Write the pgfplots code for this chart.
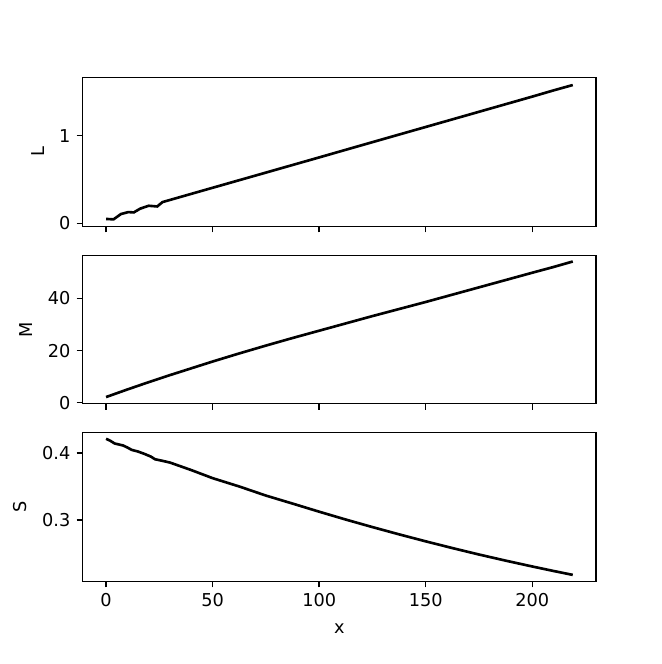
\documentclass[border=0pt]{standalone}
\usepackage{pgfplots}
\pgfplotsset{compat=1.18}
\usepackage{fontspec}
\setmainfont{DejaVu Sans}
\begin{document}
\begin{tikzpicture}
\pgfplotsset{
  every axis/.append style={
    scale only axis, width=370.8bp, height=107.3bp,
    xmin=-10.95, xmax=229.95,
    xtick={0,50,100,150,200},
    tick align=outside, tick pos=left,
    major tick length=4.4bp,
    axis line style={line width=1.0bp},
    every tick/.style={line width=1.0bp, black},
    /pgf/number format/assume math mode=true,
    tick label style={font=\fontsize{12.8bp}{15bp}\selectfont},
    label style={font=\fontsize{12.8bp}{15bp}\selectfont},
    xticklabel style={yshift=-1bp},
    yticklabel style={xshift=-1bp},
    ylabel style={yshift=4bp},
    xlabel style={yshift=-5bp},
  },
}
\begin{axis}[name=top, ymin=-0.034, ymax=1.659, ytick={0,1}, xticklabels={}, ylabel={L}]
\addplot[black, line width=1.9bp] coordinates {
(0,0.05) (3.5,0.045) (7,0.106) (10.5,0.128) (13,0.124) (16,0.167) (20,0.200) (24,0.192) (26.5,0.242)
(50,0.405) (75,0.578) (100,0.751) (125,0.925) (150,1.098) (175,1.271) (200,1.444) (210,1.515) (219,1.576)
};
\end{axis}
\begin{axis}[name=mid, at={(top.south west)}, anchor=north west, yshift=-20.9bp,
  ymin=-0.38, ymax=56.5, ytick={0,20,40}, xticklabels={}, ylabel={M}]
\addplot[black, line width=1.9bp] coordinates {
(0,2.2) (10,5.1) (20,7.9) (30,10.6) (40,13.2) (50,15.8) (62.5,18.9) (75,21.9) (87.5,24.8) (100,27.6)
(112.5,30.4) (125,33.2) (137.5,35.9) (150,38.6) (162.5,41.4) (175,44.2) (187.5,47.0) (200,49.8) (210,52.0) (219,54.1)
};
\end{axis}
\begin{axis}[name=bot, at={(mid.south west)}, anchor=north west, yshift=-20.9bp,
  ymin=0.209, ymax=0.43, ytick={0.3,0.4}, yticklabel style={/pgf/number format/fixed, /pgf/number format/precision=1}, ylabel={S}, xlabel={x}]
\addplot[black, line width=1.9bp] coordinates {
(0,0.421) (2,0.418) (4,0.414) (6,0.4125) (8,0.411) (10,0.408) (12,0.4045) (15,0.402) (18,0.3985)
(21,0.3945) (23,0.3905) (26,0.3885) (30,0.3856) (40,0.3744) (50,0.3624) (62.5,0.3500) (75,0.3365)
(87.5,0.3246) (100,0.3125) (112.5,0.3008) (125,0.2896) (137.5,0.2788) (150,0.2684) (162.5,0.2584)
(175,0.2488) (187.5,0.2397) (200,0.2310) (210,0.2243) (219,0.2185)
};
\end{axis}
\path[use as bounding box] ([xshift=-59.76bp, yshift=56.16bp]top.north west) rectangle ([xshift=47.52bp, yshift=-59.76bp]bot.south east);
\end{tikzpicture}
\end{document}
